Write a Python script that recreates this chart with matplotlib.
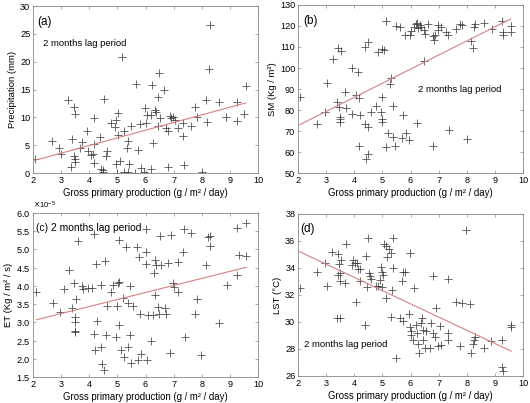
import numpy as np
import matplotlib
matplotlib.use('Agg')
import matplotlib.pyplot as plt
from matplotlib.ticker import ScalarFormatter

plt.rcParams['font.family'] = ['Liberation Sans', 'DejaVu Sans']

xlabel = 'Gross primary production (g / m\u00b2 / day)'

# (a) precipitation
gpp_a = [2.06, 2.68, 2.92, 3.0, 3.24, 3.44, 3.51, 3.40, 3.36, 3.47, 3.5, 3.5, 3.66, 3.73,
         3.92, 3.95, 4.07, 4.13, 4.16, 4.16, 4.16, 4.37, 4.43, 4.49, 4.51, 4.5, 4.58, 4.64,
         4.78, 4.9, 4.96, 5.02, 4.96, 5.02, 4.98, 5.1, 5.16, 5.22, 5.22, 5.34, 5.36, 5.41,
         5.37, 5.5, 5.62, 5.65, 5.72, 5.79, 5.83, 5.95, 5.97, 6.0, 6.05, 6.2, 6.2, 6.24,
         6.27, 6.34, 6.39, 6.44, 6.48, 6.45, 6.5, 6.66, 6.74, 6.8, 6.8, 6.86, 6.89, 6.96,
         7.05, 7.15, 7.32, 7.33, 7.37, 7.63, 7.77, 7.83, 8.0, 8.14, 8.2, 8.26, 8.28, 8.6,
         8.87, 9.25, 9.27, 9.49, 9.56]
precip = [2.5, 5.7, 4.5, 3.5, 13.1, 11.9, 10.6, 6.1, 1.0, 3.1, 2.5, 1.9, 4.5, 5.5,
          7.6, 3.9, 3.2, 3.5, 9.8, 5.2, 1.8, 6.4, 0.8, 0.5, 13.3, 0.1, 3.1, 4.0,
          8.9, 8.2, 9.5, 10.7, 1.7, 6.9, 0.0, 2.1, 20.9, 7.5, 0.1, 4.5, 5.8, 1.7,
          0.2, 8.5, 0.0, 15.9, 4.2, 8.8, 0.9, 0.2, 11.6, 8.9, 10.4, 10.4, 0.7, 15.8,
          5.4, 11.3, 11.0, 13.7, 17.9, 8.5, 9.8, 14.9, 8.0, 7.6, 1.0, 10.3, 9.8, 10.1,
          9.5, 8.0, 8.9, 6.6, 1.5, 8.5, 11.9, 10.0, 0.2, 13.1, 9.1, 18.6, 26.5, 12.8,
          10.1, 12.8, 9.4, 10.6, 15.6]

# (b) soil moisture
gpp_b = [2.06, 2.68, 2.95, 3.04, 3.24, 3.42, 3.52, 3.4, 3.44, 3.48, 3.5, 3.5, 3.66, 3.7,
         3.92, 3.92, 4.07, 4.13, 4.16, 4.19, 4.16, 4.37, 4.49, 4.37, 4.49, 4.49, 4.43, 4.58,
         4.78, 4.84, 4.98, 5.04, 4.96, 4.98, 4.98, 4.98, 5.14, 5.2, 5.26, 5.32, 5.37, 5.37,
         5.44, 5.14, 5.5, 5.62, 5.68, 5.73, 5.79, 5.85, 5.95, 5.97, 6.03, 6.13, 6.2, 6.24,
         6.27, 6.34, 6.39, 6.48, 6.5, 6.62, 6.8, 6.83, 6.88, 6.96, 6.98, 7.08, 7.27, 7.33,
         6.48, 6.24, 6.8, 7.37, 7.63, 7.77, 7.83, 8.0, 8.14, 8.22, 8.26, 8.31, 8.6, 8.9,
         9.26, 9.29, 9.29, 9.56, 9.56]
sm = [86.3, 73.4, 79.0, 93.0, 104.5, 109.6, 108.0, 83.6, 81.4, 76.9, 75.7, 74.1, 88.5, 80.9,
      99.8, 78.0, 87.2, 98.0, 85.6, 77.7, 63.0, 110.0, 112.3, 73.3, 71.8, 59.2, 56.8, 79.0,
      82.0, 107.5, 109.2, 108.4, 79.0, 75.5, 74.5, 86.4, 122.3, 69.0, 92.5, 95.1, 81.7, 67.1,
      63.0, 62.5, 120.0, 119.7, 66.6, 77.7, 115.6, 69.0, 65.5, 115.6, 117.6, 119.5, 120.8, 121.5,
      118.9, 120.6, 119.4, 118.1, 116.1, 121.0, 115.0, 113.2, 115.7, 120.5, 118.3, 119.7, 117.0, 115.5,
      103.4, 74.0, 63.0, 70.6, 118.4, 121.0, 120.6, 66.4, 113.0, 109.5, 119.7, 121.0, 121.3, 118.6,
      122.3, 117.0, 115.8, 117.3, 119.8]

# (c) evapotranspiration (x 1e-5)
gpp_c = [2.12, 2.71, 2.97, 3.09, 3.28, 3.4, 3.44, 3.48, 3.5, 3.48, 3.5, 3.54, 3.6, 3.73,
         3.78, 3.96, 4.11, 4.17, 4.16, 4.19, 4.25, 4.28, 4.43, 4.43, 4.45, 4.51, 4.55, 4.58,
         4.64, 4.78, 4.86, 4.96, 4.98, 5.02, 5.05, 5.04, 5.04, 5.14, 5.22, 5.2, 5.29, 5.37,
         5.37, 5.44, 5.46, 5.5, 5.56, 5.68, 5.73, 5.77, 5.79, 5.85, 6.01, 6.03, 6.03, 6.06,
         6.08, 6.2, 6.27, 6.29, 6.33, 6.33, 6.39, 6.45, 6.48, 6.5, 6.56, 6.68, 6.74, 6.8,
         6.86, 6.92, 6.98, 7.0, 7.15, 7.17, 7.33, 7.37, 7.39, 7.63, 7.75, 7.83, 7.99, 8.16,
         8.22, 8.28, 8.31, 8.61, 8.9, 9.26, 9.27, 9.32, 9.56, 9.58]
et = [3.84, 3.52, 3.29, 3.91, 4.44, 3.38, 4.07, 3.15, 3.02, 2.77, 2.74, 3.63, 5.22, 4.0,
      3.91, 3.93, 3.93, 5.42, 2.68, 2.23, 4.6, 3.04, 4.03, 2.33, 1.87, 1.68, 4.67, 2.65,
      3.45, 3.84, 4.03, 2.6, 3.45, 4.07, 4.12, 2.92, 5.25, 2.23, 2.05, 3.66, 5.06, 2.33,
      3.52, 4.0, 2.65, 1.89, 3.45, 5.06, 1.96, 4.78, 3.22, 2.14, 4.94, 5.57, 4.6, 1.96,
      3.2, 2.48, 3.2, 4.35, 4.71, 3.74, 4.58, 3.43, 3.24, 5.38, 4.56, 3.38, 3.24, 4.62,
      2.17, 5.4, 4.07, 3.96, 4.65, 3.84, 4.92, 5.57, 2.6, 5.44, 3.24, 3.63, 2.11, 4.58,
      5.34, 5.1, 5.36, 2.97, 4.03, 4.3, 5.58, 4.85, 5.74, 4.82]

# (d) land surface temperature
gpp_d = [2.06, 2.68, 2.95, 3.04, 3.22, 3.4, 3.48, 3.42, 3.44, 3.5, 3.5, 3.54, 3.42, 3.66,
         3.7, 3.92, 3.96, 4.03, 4.11, 4.13, 4.19, 4.19, 4.07, 4.37, 4.49, 4.43, 4.51, 4.55,
         4.58, 4.46, 4.78, 4.84, 4.9, 4.96, 4.98, 5.02, 4.98, 5.05, 5.14, 5.17, 5.22, 5.14,
         5.32, 5.37, 5.37, 5.35, 5.32, 5.5, 5.62, 5.71, 5.73, 5.79, 5.73, 5.97, 5.95, 5.99,
         6.03, 6.0, 6.08, 6.12, 6.2, 6.22, 6.27, 6.29, 6.39, 6.42, 6.44, 6.44, 6.5, 6.56,
         6.68, 6.74, 6.8, 6.8, 6.86, 6.92, 6.98, 7.06, 7.1, 7.33, 7.33, 7.33, 7.63, 7.75,
         7.84, 7.99, 8.13, 8.16, 8.22, 8.26, 8.28, 8.6, 8.87, 9.26, 9.27, 9.29, 9.56, 9.58]
lst = [32.5, 33.7, 34.4, 32.7, 35.2, 30.3, 30.3, 35.05, 34.3, 33.6, 33.0, 34.6, 33.5, 32.9,
       35.8, 34.2, 34.6, 34.4, 34.4, 33.9, 33.9, 33.0, 31.5, 29.8, 36.2, 34.9, 33.6, 33.4,
       33.2, 32.6, 32.7, 32.7, 33.1, 34.1, 33.7, 33.5, 32.6, 35.8, 35.6, 34.8, 35.4, 31.75,
       35.1, 36.2, 34.0, 32.4, 30.4, 27.3, 30.3, 33.0, 33.7, 33.7, 30.1, 35.1, 30.6, 29.6,
       29.35, 29.0, 28.65, 32.5, 29.8, 29.15, 28.4, 27.7, 29.9, 30.3, 29.4, 28.65, 28.1, 29.3,
       28.1, 29.9, 33.4, 29.15, 28.9, 31.0, 28.2, 29.7, 28.3, 33.2, 29.2, 28.7, 31.5, 28.2,
       31.4, 36.8, 31.3, 27.7, 28.4, 28.65, 28.9, 28.1, 28.6, 28.65, 26.7, 26.4, 29.8, 29.6]

# fitted lines: (slope, intercept)
fit_a = (1.375, -0.56)
fit_b = (6.71, 59.2)
fit_c = (0.193, 2.662)
fit_d = (-0.979, 37.22)

panels = [
    dict(x=gpp_a, y=precip, fit=fit_a, scale=1.0, ylim=(0, 30), yticks=np.arange(0, 31, 5),
         ylabel='Precipitation (mm)', tag='(a)', tag_pos=(0.02, 0.94),
         note_pos=(0.045, 0.775), pos=[0.0623, 0.5707, 0.4245, 0.4144]),
    dict(x=gpp_b, y=sm, fit=fit_b, scale=1.0, ylim=(50, 130), yticks=np.arange(50, 131, 10),
         ylabel='SM (Kg / m\u00b2)', tag='(b)', tag_pos=(0.025, 0.94),
         note_pos=(0.535, 0.5), pos=[0.5623, 0.5707, 0.4245, 0.4169]),
    dict(x=gpp_c, y=et, fit=fit_c, scale=1e-5, ylim=(1.5e-5, 6e-5),
         yticks=np.arange(1.5, 6.01, 0.5) * 1e-5,
         ylabel='ET (Kg / m\u00b2 / s)', tag='(c) 2 months lag period', tag_pos=(0.012, 0.94),
         note_pos=None, pos=[0.0623, 0.0645, 0.4245, 0.4069]),
    dict(x=gpp_d, y=lst, fit=fit_d, scale=1.0, ylim=(26, 38), yticks=np.arange(26, 39, 2),
         ylabel='LST (\u00b0C)', tag='(d)', tag_pos=(0.012, 0.945),
         note_pos=(0.027, 0.196), pos=[0.5623, 0.0670, 0.4245, 0.4020]),
]

fig = plt.figure(figsize=(5.30, 4.03), dpi=100)

for p in panels:
    ax = fig.add_axes(p['pos'])
    x = np.array(p['x'])
    y = np.array(p['y']) * p['scale']
    ax.plot(x, y, '+', color='#333333', markersize=6, markeredgewidth=0.6, alpha=0.85)
    xl = np.array([x.min(), x.max()])
    ax.plot(xl, (p['fit'][0] * xl + p['fit'][1]) * p['scale'], color='#d98080', lw=0.8)
    ax.set_xlim(2, 10)
    ax.set_ylim(*p['ylim'])
    ax.set_xticks(range(2, 11))
    ax.set_yticks(p['yticks'])
    ax.tick_params(direction='in', top=True, right=True, labelsize=6.6, length=2.5,
                   width=0.5, color='#888888', pad=2)
    for s in ax.spines.values():
        s.set_color('#888888')
        s.set_linewidth(0.6)
    ax.set_xlabel(xlabel, fontsize=6.9, labelpad=2)
    ax.set_ylabel(p['ylabel'], fontsize=6.8, labelpad=2)
    ax.text(*p['tag_pos'], p['tag'], transform=ax.transAxes,
            fontsize=8.5 if p['note_pos'] is not None else 7.4, va='top')
    if p['note_pos'] is not None:
        ax.text(*p['note_pos'], '2 months lag period', transform=ax.transAxes,
                fontsize=6.8, va='center')
    if p['scale'] != 1.0:
        fmt = ScalarFormatter(useMathText=True)
        fmt.set_powerlimits((0, 0))
        ax.yaxis.set_major_formatter(fmt)
        ax.yaxis.get_offset_text().set_fontsize(5.5)

fig.savefig('out.png', dpi=100)
